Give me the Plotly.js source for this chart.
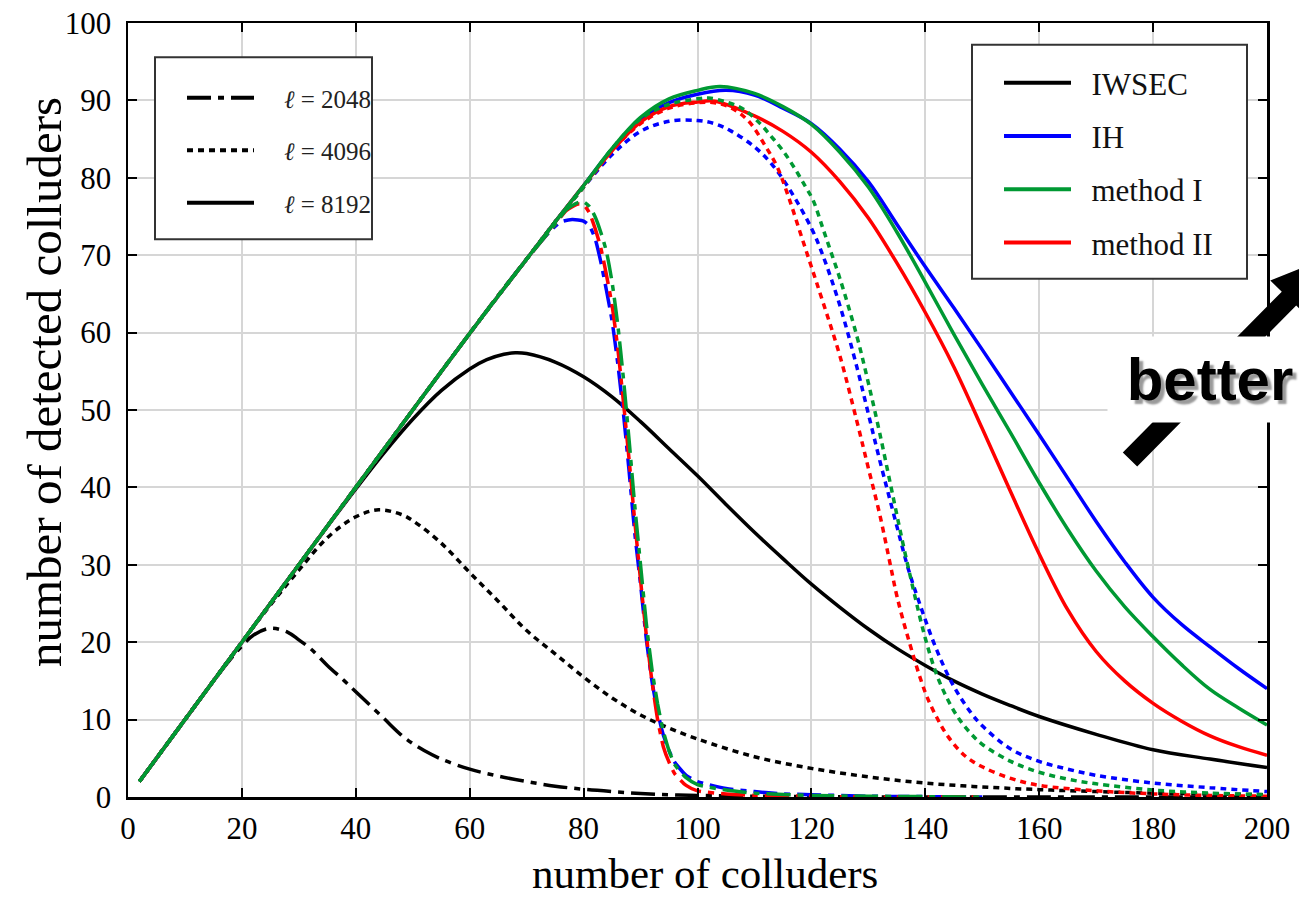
<!DOCTYPE html>
<html>
<head>
<meta charset="utf-8">
<script src="https://cdn.plot.ly/plotly-3.0.1.min.js"></script>
<style>html,body{margin:0;padding:0;background:#fff;}#chart{width:1299px;height:903px;}</style>
</head>
<body>
<div id="chart"></div>
<script>
// ---- data ----
// l = 2048 (dash-dot)
const x_iwsec_2048 = [2,5,10,15,18,20,22,25,28,30,32,35,38,40,42,45,48,50,52,55,60,65,70,75,80,85,90,95,100,110,120,130,150,200];
const y_iwsec_2048 = [2,5,10,15,17.8,19.5,20.9,21.8,21.3,20.3,19.2,17,15,13.6,12.2,10.1,8,6.9,6,4.9,3.6,2.7,2,1.4,1.0,0.7,0.45,0.3,0.2,0.1,0.05,0,0,0];
const x_ih_2048 = [2,10,20,30,40,50,60,65,70,74,76,78,80,81,82,83,84,85,86,87,88,89,90,91,92,93,94,95,96,98,100,105,110,115,120,130,140,150];
const y_ih_2048 = [2,10,20,30,40,50,59.9,64.8,69.5,73,74.3,74.6,74.4,73.8,72.2,69.2,65.5,61.5,56,49.5,42,34,27.5,20.5,15,11,8,6,4.5,2.8,2.0,1.1,0.7,0.4,0.3,0.1,0.05,0];
const x_m1_2048 = [2,10,20,30,40,50,60,65,70,75,77,79,80,81,82,83,84,85,86,87,88,89,90,91,92,93,94,95,96,98,100,105,110,120,130,150];
const y_m1_2048 = [2,10,20,30,40,50,59.9,64.8,69.5,74,75.9,76.8,76.9,76.3,75,73,70.5,66.5,61,54,46,37.5,30,22.5,16.5,12,8.5,6,4.2,2.5,1.6,0.9,0.5,0.2,0.1,0];
const x_m2_2048 = [2,10,20,30,40,50,60,65,70,75,77,79,80,81,82,83,84,85,86,87,88,89,90,91,92,93,94,95,96,98,100,105,110,120,130,150];
const y_m2_2048 = [2,10,20,30,40,50,59.9,64.8,69.5,74,75.8,76.6,76.5,75.5,73.5,71,67.5,63.5,58,51,43.5,35.5,28,21,15,10,6.5,4.5,3,1.5,0.8,0.4,0.2,0.1,0,0];

// l = 4096 (dotted)
const x_iwsec_4096 = [2,10,20,25,30,35,40,44,48,50,55,60,65,70,75,80,85,90,95,100,110,120,130,140,150,160,170,180,190,200];
const y_iwsec_4096 = [2,10,20,24.8,29.3,33.5,36.2,37.1,36.5,35.7,32.8,29,25.3,21.5,18.5,15.5,12.8,10.6,8.9,7.5,5.2,3.7,2.6,1.8,1.3,0.95,0.7,0.5,0.4,0.3];
const x_ih_4096 = [2,10,20,30,40,50,60,70,75,80,85,90,95,100,103,106,110,113,116,120,122,125,128,130,132,135,137,139,142,145,148,150,155,160,165,170,180,190,200];
const y_ih_4096 = [2,10,20,30,40,50,59.9,69.5,74.3,78.8,83,86,87.3,87.4,87,86,84,81.8,78.7,73.5,70,63.5,55.5,49.5,43.5,35,29.5,25,19,14.3,10.9,9.2,6.2,4.6,3.6,2.8,1.8,1.2,0.7];
const x_m1_4096 = [2,10,20,30,40,50,60,70,75,80,85,90,95,100,102,105,108,111,113,115,117,119,120.3,122,123.3,125,128,130,132,134,136,138,140,142,144,146,148,150,155,160,165,170,180,190,200];
const y_m1_4096 = [2,10,20,30,40,50,59.9,69.5,74.3,78.8,83.8,87.6,89.5,90.2,90.3,89.8,88.9,87,85.3,83.5,81.3,78.8,77.1,73.5,70.7,67,59.5,53.5,47,40,33,26.5,20.5,15.8,12.5,10,8.2,6.8,4.6,3.2,2.3,1.7,0.9,0.5,0.3];
const x_m2_4096 = [2,10,20,30,40,50,60,70,75,80,85,90,95,100,103,106,109,112,114,116,118,120,122,125,128,130,132,134,135,137,140,142,144,147,150,155,160,170,180,190,200];
const y_m2_4096 = [2,10,20,30,40,50,59.9,69.5,74.3,78.8,83.5,87,89,89.7,89.7,89,87.3,84,81.4,77.5,73,68.5,64,57,48.5,42.5,36.5,29.5,26,20.5,13.5,10.3,7.8,5.3,3.9,2.4,1.5,0.8,0.4,0.2,0.1];

// l = 8192 (solid)
const x_iwsec_8192 = [2,10,20,30,40,45,50,55,60,63,66,68,70,75,80,85,90,95,100,105,110,115,120,125,130,135,140,145,150,155,160,170,180,190,200];
const y_iwsec_8192 = [2,10,20,30,39.8,44.5,48.8,52.5,55.3,56.5,57.2,57.4,57.3,56.2,54.3,51.7,48.5,45,41.5,37.8,34.2,30.8,27.5,24.5,21.7,19.2,17,15,13.3,11.8,10.4,8.1,6.1,4.9,3.8];
const x_ih_8192 = [2,10,20,30,40,50,60,70,75,80,85,90,95,100,105,110,115,120,125,130,135,140,145,150,155,160,165,170,175,180,185,190,195,200];
const y_ih_8192 = [2,10,20,30,40,50,59.9,69.5,74.3,79,83.7,87.5,89.7,90.8,91.3,90.7,89,87,83.7,79.5,74,68.5,63.2,57.8,52.3,46.8,41.2,35.6,30.4,25.8,22.3,19.4,16.6,14];
const x_m1_8192 = [2,10,20,30,40,50,60,70,75,80,85,90,95,100,104,110,115,120,125,130,135,140,145,150,155,160,165,170,175,180,185,190,195,200];
const y_m1_8192 = [2,10,20,30,40,50,59.9,69.5,74.3,79,83.8,87.8,90.2,91.3,91.8,90.9,89.2,86.9,83.3,78.8,73,66.5,59.8,53.3,47,40.6,34.6,29.2,24.6,20.7,17.1,13.9,11.5,9.3];
const x_m2_8192 = [2,10,20,30,40,50,60,70,75,80,85,90,95,100,103,110,115,120,125,130,135,140,145,150,155,160,165,170,175,180,185,190,195,200];
const y_m2_8192 = [2,10,20,30,40,50,59.9,69.5,74.3,79,83.5,87.2,89.2,89.8,89.9,88,86,83.3,79.5,74.8,69,62.6,55.6,47.6,39.4,31.4,24.2,18.8,15,12.1,9.8,7.9,6.5,5.4];

const methodNames = ['IWSEC','IH','method I','method II'];
const methodColors = ['#000000','#0000ff','#009933','#ff0000'];
const lengthNames = ['ℓ = 2048','ℓ = 4096','ℓ = 8192'];

// ---- styles ----
const dashes = ['24px,7px,6px,7px', '6px,5px', 'solid'];
const LW = 3.5;

const curves = [
  [x_iwsec_2048, y_iwsec_2048, 0, 0],
  [x_iwsec_4096, y_iwsec_4096, 0, 1],
  [x_iwsec_8192, y_iwsec_8192, 0, 2],
  [x_ih_2048, y_ih_2048, 1, 0],
  [x_ih_4096, y_ih_4096, 1, 1],
  [x_ih_8192, y_ih_8192, 1, 2],
  [x_m2_2048, y_m2_2048, 3, 0],
  [x_m2_4096, y_m2_4096, 3, 1],
  [x_m2_8192, y_m2_8192, 3, 2],
  [x_m1_2048, y_m1_2048, 2, 0],
  [x_m1_4096, y_m1_4096, 2, 1],
  [x_m1_8192, y_m1_8192, 2, 2]
];

const traces = curves.map(c => ({
  type: 'scatter', mode: 'lines', x: c[0], y: c[1],
  line: {color: methodColors[c[2]], width: LW, dash: dashes[c[3]], shape: 'spline',
         smoothing: (c[2] > 0 && c[3] === 0) ? 0.6 : 1},
  showlegend: false, hoverinfo: 'skip'
}));

// legend entries
methodNames.forEach((n, i) => traces.push({
  type: 'scatter', mode: 'lines', x: [null], y: [null], name: '\u00a0\u00a0' + n,
  line: {color: methodColors[i], width: 4}, legend: 'legend', legendgroup: 'm' + i, showlegend: true
}));
lengthNames.forEach((n, i) => traces.push({
  type: 'scatter', mode: 'lines', x: [null], y: [null], name: '\u00a0\u00a0\u00a0\u00a0' + n.replace('ℓ', '<i>ℓ</i>'),
  line: {color: '#000', width: 4, dash: dashes[i]}, legend: 'legend2', legendgroup: 'l' + i, showlegend: true
}));

// ---- geometry helpers (page pixels -> paper) ----
const ML = 128, MR = 32, MT = 23, MB = 106, PW = 1299, PH = 903;
const W = PW - ML - MR, H = PH - MT - MB;
const px = v => (v - ML) / W;
const py = v => (PH - MB - v) / H;

// arrow polygon in page pixels
const u = [0.694, -0.72], n = [-0.72, -0.694];
const T = [1130, 459.5], B = [1289, 298.6];
const hw = 10, hh = 26, L = 58;
const add = (p, v, k) => [p[0] + v[0] * k, p[1] + v[1] * k];
const pts = [add(T, n, hw), add(B, n, hw), add(B, n, hh), add(B, u, L), add(B, n, -hh), add(B, n, -hw), add(T, n, -hw)];
const arrowPath = 'M' + pts.map(p => px(p[0]).toFixed(5) + ',' + py(p[1]).toFixed(5)).join(' L') + ' Z';

const serif = 'Liberation Serif, Times New Roman, serif';
const axisCommon = {
  showline: true, linecolor: '#000', linewidth: 2.5, mirror: 'ticks',
  ticks: 'inside', ticklen: 9, tickwidth: 2, tickcolor: '#000',
  showgrid: true, gridcolor: '#d6d6d6', gridwidth: 2, zeroline: false,
  tickfont: {family: serif, size: 31, color: '#000'}
};

const boxStyle = {type: 'rect', xref: 'paper', yref: 'paper', fillcolor: '#fff', line: {color: '#333', width: 2}, layer: 'above'};

const layout = {
  width: PW, height: PH,
  margin: {l: ML, r: MR, t: MT, b: MB},
  paper_bgcolor: '#fff', plot_bgcolor: '#fff',
  font: {family: serif, color: '#000'},
  xaxis: Object.assign({}, axisCommon, {range: [0, 200], dtick: 20, tick0: 0, ticklabelstandoff: 2}),
  yaxis: Object.assign({}, axisCommon, {range: [0, 100], dtick: 10, tick0: 0, ticklabelstandoff: 8}),
  legend: {x: px(999), y: py(56), xanchor: 'left', yanchor: 'top',
    bgcolor: 'rgba(0,0,0,0)', borderwidth: 0,
    font: {family: serif, size: 31, color: '#111'}, itemwidth: 67,
    traceorder: 'grouped', tracegroupgap: 10},
  legend2: {x: px(182), y: py(75), xanchor: 'left', yanchor: 'top',
    bgcolor: 'rgba(0,0,0,0)', borderwidth: 0,
    font: {family: serif, size: 25, color: '#222'}, itemwidth: 67,
    traceorder: 'grouped', tracegroupgap: 17},
  shapes: [
    Object.assign({}, boxStyle, {x0: px(972), x1: px(1247), y0: py(278.7), y1: py(44.7)}),
    Object.assign({}, boxStyle, {x0: px(155), x1: px(372), y0: py(239.3), y1: py(57.3)}),
    {type: 'path', xref: 'paper', yref: 'paper', path: arrowPath, fillcolor: '#000', line: {width: 0}, layer: 'above'}
  ],
  annotations: [
    {xref: 'paper', yref: 'paper', x: px(705), y: py(873), xanchor: 'center', yanchor: 'middle',
     text: 'number of colluders', showarrow: false, font: {family: serif, size: 43, color: '#000'}},
    {xref: 'paper', yref: 'paper', x: px(44), y: py(382), xanchor: 'center', yanchor: 'middle', textangle: -90,
     text: 'number of detected colluders', showarrow: false, font: {family: serif, size: 49, color: '#000'}},
    {xref: 'paper', yref: 'paper', x: px(1210), y: py(379), xanchor: 'center', yanchor: 'middle',
     text: '<b>better</b>', showarrow: false, bgcolor: '#fff', width: 204, height: 85, borderpad: 0,
     font: {family: 'Liberation Sans, Arial, sans-serif', size: 60, color: '#000', shadow: '4px 4px 2px #9a9a9a'}}
  ]
};

Plotly.newPlot('chart', traces, layout, {staticPlot: true, displayModeBar: false});
</script>
</body>
</html>
